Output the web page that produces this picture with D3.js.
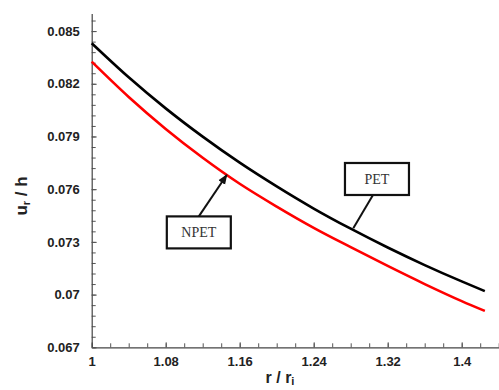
<!DOCTYPE html>
<html>
<head>
<meta charset="utf-8">
<script src="https://cdn.jsdelivr.net/npm/d3@7"></script>
<style>
  body { margin: 0; background: #fff; }
  text { font-family: "Liberation Sans", Arial, sans-serif; }
</style>
</head>
<body>
<div class="canvas"></div>
<script>
// data
const radius = [1.00, 1.04, 1.08, 1.12, 1.16, 1.20, 1.24, 1.28, 1.32, 1.36, 1.40, 1.425];
const pet    = [0.08431, 0.08237, 0.08060, 0.07899, 0.07751, 0.07616, 0.07490, 0.07375, 0.07268, 0.07168, 0.07075, 0.07020];
const npet   = [0.08326, 0.08125, 0.07943, 0.07779, 0.07631, 0.07501, 0.07380, 0.07270, 0.07163, 0.07060, 0.06963, 0.06907];

const xTicks = [1, 1.08, 1.16, 1.24, 1.32, 1.4];
const yTicks = [0.067, 0.07, 0.073, 0.076, 0.079, 0.082, 0.085];

// annotation boxes: label, box centre (data), arrow tip (data), arrowhead?
const notes = [
  {label: "PET",  cx: 1.3084, cy: 0.07658, tx: 1.2828, ty: 0.07377, head: false, from: "bottom"},
  {label: "NPET", cx: 1.1158, cy: 0.07354, tx: 1.1460, ty: 0.07681, head: true,  from: "top"}
];

const dims = {width: 499, height: 390};
const plot = {left: 91.7, top: 13.5, bottom: 347.3};

const svg = d3.select(".canvas").append("svg")
    .attr("width", dims.width)
    .attr("height", dims.height);

const x = d3.scaleLinear().domain([1, 1.44]).range([plot.left, plot.left + 0.44 * 925]);
const y = d3.scaleLinear().domain([0.067, 0.086]).range([plot.bottom, plot.top]);

const fmt = v => String(+v.toFixed(3));

// minor ticks
const xMinor = d3.range(0, 23).map(i => 1 + i * 0.02);
const yMinor = d3.range(0, 32).map(i => 0.067 + i * 0.0006);

svg.append("g")
    .attr("transform", `translate(0,${plot.bottom})`)
    .call(d3.axisBottom(x).tickValues(xMinor).tickSize(-4).tickFormat(""))
    .call(g => g.select(".domain").remove())
    .selectAll("line").attr("stroke", "#555");

svg.append("g")
    .attr("transform", `translate(${plot.left},0)`)
    .call(d3.axisLeft(y).tickValues(yMinor).tickSize(-4).tickFormat(""))
    .call(g => g.select(".domain").remove())
    .selectAll("line").attr("stroke", "#555");

// main axes
const xAxis = svg.append("g")
    .attr("transform", `translate(0,${plot.bottom})`)
    .call(d3.axisBottom(x).tickValues(xTicks).tickSizeInner(-5).tickSizeOuter(0).tickPadding(9).tickFormat(fmt));

const yAxis = svg.append("g")
    .attr("transform", `translate(${plot.left},0)`)
    .call(d3.axisLeft(y).tickValues(yTicks).tickSizeInner(-5).tickSizeOuter(0).tickPadding(12).tickFormat(fmt));

[xAxis, yAxis].forEach(a => {
  a.select(".domain").attr("stroke", "#444").attr("stroke-width", 1.2);
  a.selectAll("line").attr("stroke", "#555");
  a.selectAll("text")
    .attr("font-size", 13)
    .attr("font-weight", "bold")
    .attr("fill", "#222")
    .style("font-family", "'Liberation Sans', Arial, sans-serif");
});
xAxis.selectAll("text").attr("dy", "0.71em");

// axis titles
svg.append("text")
    .attr("x", 280)
    .attr("y", 383)
    .attr("text-anchor", "middle")
    .attr("font-size", 16)
    .attr("font-weight", "bold")
    .attr("fill", "#222")
    .html('r / r<tspan font-size="11" dy="2">i</tspan>');

svg.append("text")
    .attr("transform", "translate(27,196) rotate(-90)")
    .attr("text-anchor", "middle")
    .attr("font-size", 17)
    .attr("font-weight", "bold")
    .attr("fill", "#222")
    .html('u<tspan font-size="11" dy="3">r</tspan><tspan dy="-3"> / h</tspan>');

// curves
const line = d3.line()
    .x(d => x(d[0]))
    .y(d => y(d[1]))
    .curve(d3.curveMonotoneX);

const series = [
  {values: pet,  color: "#000"},
  {values: npet, color: "#ff0000"}
];

svg.append("g").selectAll("path")
    .data(series)
    .enter().append("path")
    .attr("fill", "none")
    .attr("stroke", d => d.color)
    .attr("stroke-width", 2.6)
    .attr("d", d => line(radius.map((r, i) => [r, d.values[i]])));

// annotations
svg.append("defs").append("marker")
    .attr("id", "head")
    .attr("viewBox", "0 0 10 10")
    .attr("refX", 9).attr("refY", 5)
    .attr("markerWidth", 5).attr("markerHeight", 5)
    .attr("orient", "auto")
    .append("path")
    .attr("d", "M0,1 L10,5 L0,9 Z")
    .attr("fill", "#111");

const bw = 64, bh = 32;
const ann = svg.append("g").selectAll("g")
    .data(notes)
    .enter().append("g");

ann.append("line")
    .attr("x1", d => x(d.cx) + (d.from === "top" ? 0 : -4))
    .attr("y1", d => y(d.cy) + (d.from === "top" ? -bh / 2 : bh / 2))
    .attr("x2", d => x(d.tx))
    .attr("y2", d => y(d.ty))
    .attr("stroke", "#111")
    .attr("stroke-width", 2)
    .attr("marker-end", d => d.head ? "url(#head)" : null);

ann.append("rect")
    .attr("x", d => x(d.cx) - bw / 2)
    .attr("y", d => y(d.cy) - bh / 2)
    .attr("width", bw)
    .attr("height", bh)
    .attr("fill", "#fff")
    .attr("stroke", "#111")
    .attr("stroke-width", 2.2);

ann.append("text")
    .attr("x", d => x(d.cx))
    .attr("y", d => y(d.cy))
    .attr("dy", "0.36em")
    .attr("text-anchor", "middle")
    .attr("font-size", 14)
    .attr("fill", "#333")
    .style("font-family", "'Liberation Serif', 'Times New Roman', serif")
    .text(d => d.label);
</script>
</body>
</html>
